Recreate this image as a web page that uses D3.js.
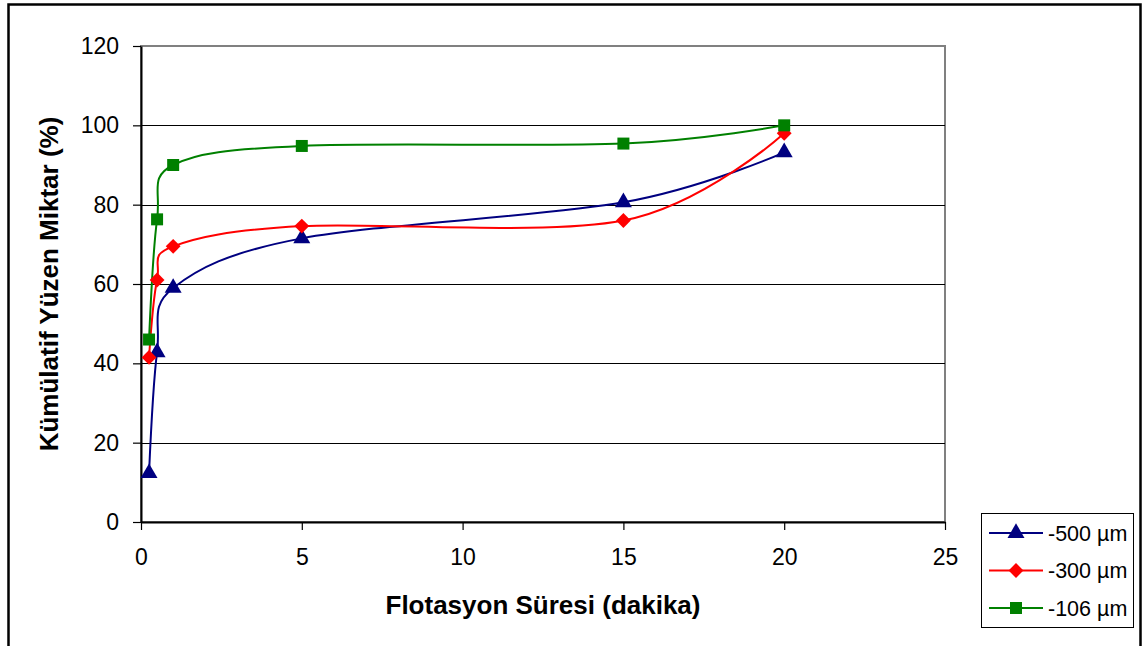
<!DOCTYPE html>
<html>
<head>
<meta charset="utf-8">
<script src="https://cdn.jsdelivr.net/npm/d3@7"></script>
<style>
  body { margin: 0; background: #fff; }
  text { font-family: "Liberation Sans", Arial, sans-serif; }
</style>
</head>
<body>
<div id="chart"></div>
<script>
// flotation time (min)
var times = [0.25, 0.5, 1, 5, 15, 20];
var seriesNames = ["-500 µm", "-300 µm", "-106 µm"];
var s500 = [12.3, 42.8, 59, 71.5, 80.6, 93.2];
var s300 = [41.5, 61, 69.5, 74.6, 76, 98];
var s106 = [46, 76.3, 90, 94.8, 95.4, 100];
var xTicks = [0, 5, 10, 15, 20, 25];
var yTicks = [0, 20, 40, 60, 80, 100, 120];

var colors = ["#000080", "#ff0000", "#008000"];

var svgWidth = 1145, svgHeight = 646;
var margin = { top: 46, left: 141 };
var chartWidth = 945 - margin.left;
var chartHeight = 522 - margin.top;

var svg = d3.select("#chart").append("svg")
  .attr("width", svgWidth)
  .attr("height", svgHeight);

// outer frame
svg.append("rect")
  .attr("x", 8.5).attr("y", 4.5)
  .attr("width", 1132).attr("height", 660)
  .attr("fill", "none").attr("stroke", "#000").attr("stroke-width", 2.5);

var chartGroup = svg.append("g")
  .attr("transform", `translate(${margin.left}, ${margin.top})`);

var x = d3.scaleLinear().domain([0, 25]).range([0, chartWidth]);
var y = d3.scaleLinear().domain([0, 120]).range([chartHeight, 0]);

// plot area border
chartGroup.append("rect")
  .attr("width", chartWidth).attr("height", chartHeight)
  .attr("fill", "none").attr("stroke", "#808080").attr("stroke-width", 2);

// gridlines
chartGroup.selectAll(".grid")
  .data(yTicks.filter(d => d > 0 && d < 120))
  .enter().append("line")
  .attr("x1", 0).attr("x2", chartWidth)
  .attr("y1", d => Math.round(y(d)) + 0.5).attr("y2", d => Math.round(y(d)) + 0.5)
  .attr("stroke", "#000").attr("stroke-width", 1.2);

var yAxis = d3.axisLeft(y).tickValues(yTicks).tickSize(8).tickPadding(14).tickSizeOuter(0);
var xAxis = d3.axisBottom(x).tickValues(xTicks).tickSize(8).tickPadding(19).tickSizeOuter(0);

var gy = chartGroup.append("g").call(yAxis);
var gx = chartGroup.append("g").attr("transform", `translate(0, ${chartHeight})`).call(xAxis);
[gx, gy].forEach(g => {
  g.selectAll("path").attr("stroke", "#000").attr("stroke-width", 2);
  g.selectAll("line").attr("stroke", "#000").attr("stroke-width", 1.2);
  g.selectAll("text").attr("font-size", 23).attr("fill", "#000")
    .attr("font-family", "Liberation Sans, Arial, sans-serif");
});

var line = d3.line()
  .x((d, i) => x(times[i]))
  .y(d => y(d))
  .curve(d3.curveCardinal.tension(0));

var allSeries = [s500, s300, s106];

// marker shapes: triangle, square turned 45 degrees, square
function marker(sel, k) {
  if (k === 0) {
    sel.attr("d", d3.symbol().type(d3.symbolTriangle).size(125));
  } else if (k === 1) {
    sel.attr("d", d3.symbol().type(d3.symbolSquare).size(110))
      .attr("transform", function () { return d3.select(this).attr("transform") + " rotate(45)"; });
  } else {
    sel.attr("d", d3.symbol().type(d3.symbolSquare).size(144));
  }
}

allSeries.forEach((vals, k) => {
  chartGroup.append("path")
    .datum(vals)
    .attr("d", line)
    .attr("fill", "none")
    .attr("stroke", colors[k])
    .attr("stroke-width", 2);
});

allSeries.forEach((vals, k) => {
  chartGroup.selectAll(".m" + k)
    .data(vals)
    .enter().append("path")
    .attr("transform", (d, i) => `translate(${x(times[i])}, ${y(d)})`)
    .attr("fill", colors[k])
    .call(marker, k);
});

// axis titles
svg.append("text")
  .attr("x", 543).attr("y", 614)
  .attr("text-anchor", "middle")
  .attr("font-size", 26).attr("font-weight", "bold")
  .text("Flotasyon Süresi (dakika)");

svg.append("text")
  .attr("transform", "translate(58, 284) rotate(-90)")
  .attr("text-anchor", "middle")
  .attr("font-size", 26).attr("font-weight", "bold")
  .text("Kümülatif Yüzen Miktar (%)");

// legend
var legend = svg.append("g").attr("transform", "translate(981, 513)");
legend.append("rect")
  .attr("x", 0.5).attr("y", 0.5)
  .attr("width", 152).attr("height", 114)
  .attr("fill", "#fff").attr("stroke", "#000").attr("stroke-width", 1);

seriesNames.forEach((name, k) => {
  var ly = 20 + k * 37.5;
  legend.append("line")
    .attr("x1", 8).attr("x2", 62).attr("y1", ly).attr("y2", ly)
    .attr("stroke", colors[k]).attr("stroke-width", 2);
  legend.append("path")
    .attr("transform", `translate(35, ${ly})`)
    .attr("fill", colors[k])
    .call(marker, k);
  legend.append("text")
    .attr("x", 67).attr("y", ly + 7.5)
    .attr("font-size", 21.5)
    .text(name);
});
</script>
</body>
</html>
